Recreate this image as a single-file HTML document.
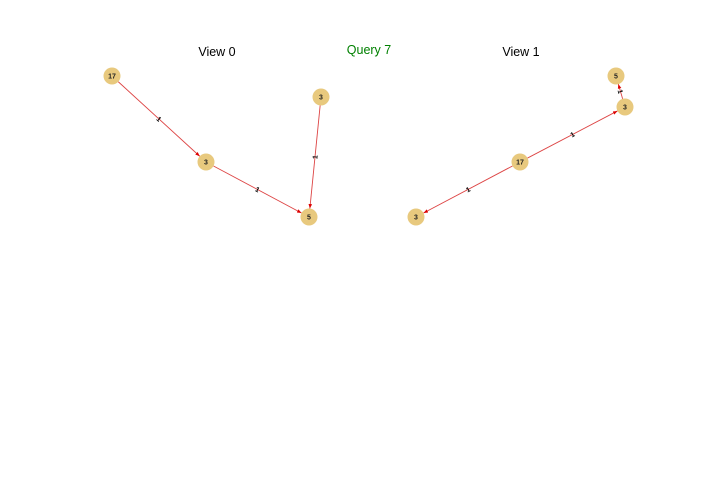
<!DOCTYPE html>
<html><head><meta charset="utf-8"><style>
body{margin:0;background:#fff;width:720px;height:504px;overflow:hidden}
svg{display:block}
text{font-family:"Liberation Sans",sans-serif}
</style></head><body>
<svg id="chart" width="720" height="504">
<defs><marker id="arr" markerWidth="6" markerHeight="6" refX="5" refY="3" orient="auto"><path d="M0,1 L5,3 L0,5 z" fill="#d00"/></marker></defs>
<text x="217" y="56" font-size="12.5" text-anchor="middle" fill="#000">View 0</text>
<text x="369" y="54" font-size="12.5" text-anchor="middle" fill="green">Query 7</text>
<text x="521" y="56" font-size="12.5" text-anchor="middle" fill="#000">View 1</text>
</svg>
<script>
const nodeLabels=["17","3","3","5","5","3","17","3"];
const nodeX=[112,206,321,309,616,625,520,416];
const nodeY=[76,162,97,217,76,107,162,217];
const edgeFrom=[0,1,2,5,6,6];
const edgeTo=[1,3,3,4,5,7];
const edgeLabels=["1","1","1","1","1","1"];
const svg=document.getElementById('chart');
const NS='http://www.w3.org/2000/svg';
const R=8.5;
edgeFrom.forEach((f,i)=>{
  const t=edgeTo[i];
  const x1=nodeX[f],y1=nodeY[f],x2=nodeX[t],y2=nodeY[t];
  const dx=x2-x1,dy=y2-y1,d=Math.hypot(dx,dy);
  const l=document.createElementNS(NS,'line');
  l.setAttribute('x1',x1+dx/d*R);l.setAttribute('y1',y1+dy/d*R);
  l.setAttribute('x2',x2-dx/d*R);l.setAttribute('y2',y2-dy/d*R);
  l.setAttribute('stroke','#d44');l.setAttribute('stroke-width','0.9');
  l.setAttribute('marker-end','url(#arr)');
  
  
  svg.appendChild(l);
  const mx=(x1+x2)/2,my=(y1+y2)/2;
  const ang=Math.atan2(dy,dx)*180/Math.PI;
  const tx=document.createElementNS(NS,'text');
  tx.setAttribute('x',mx);tx.setAttribute('y',my+2.5);
  tx.setAttribute('font-size','7');tx.setAttribute('text-anchor','middle');
  tx.setAttribute('font-weight','bold');
  let a=ang;if(a>90)a-=180;if(a<-90)a+=180;
  tx.setAttribute('transform','rotate('+a+' '+mx+' '+my+')');
  tx.textContent=edgeLabels[i];
  
  
  svg.appendChild(tx);
});
nodeLabels.forEach((lb,i)=>{
  const c=document.createElementNS(NS,'circle');
  c.setAttribute('cx',nodeX[i]);c.setAttribute('cy',nodeY[i]);c.setAttribute('r',R);
  c.setAttribute('fill','#e8c97e');
  
  
  svg.appendChild(c);
  const t=document.createElementNS(NS,'text');
  t.setAttribute('x',nodeX[i]);t.setAttribute('y',nodeY[i]+2.5);
  t.setAttribute('font-size','7');t.setAttribute('font-weight','bold');
  t.setAttribute('text-anchor','middle');t.setAttribute('fill','#222');
  t.textContent=lb;
  
  
  svg.appendChild(t);
});
</script>
</body></html>
